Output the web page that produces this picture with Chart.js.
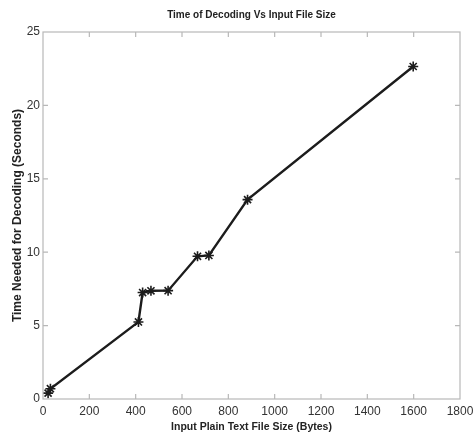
<!DOCTYPE html>
<html>
<head>
<meta charset="utf-8">
<script src="https://cdn.jsdelivr.net/npm/chart.js@4.4.1/dist/chart.umd.min.js"></script>
<style>
  html, body { margin: 0; padding: 0; background: #fff; }
  #wrap { width: 473px; height: 437px; }
</style>
</head>
<body>
<div id="wrap"><canvas id="decode-chart"></canvas></div>
<script>
// file sizes (bytes) and decoding times (seconds)
const fileSizes = [22, 32, 412, 430, 466, 540, 667, 716, 883, 1598];
const decodeTimes = [0.4, 0.7, 5.25, 7.25, 7.37, 7.38, 9.72, 9.78, 13.58, 22.65];
const xTicks = [0, 200, 400, 600, 800, 1000, 1200, 1400, 1600, 1800];
const yTicks = [0, 5, 10, 15, 20, 25];

const sans = '"Liberation Sans", Arial, sans-serif';

// box round the plot plus small inward tick marks on all four sides
const boxTicks = {
    id: 'boxTicks',
    afterDraw(chart) {
        const ctx = chart.ctx;
        const area = chart.chartArea;
        const x = chart.scales.x;
        const y = chart.scales.y;
        ctx.save();
        ctx.strokeStyle = '#b8b8b8';
        ctx.lineWidth = 1.2;
        ctx.strokeRect(area.left, area.top, area.right - area.left, area.bottom - area.top);
        ctx.beginPath();
        x.ticks.forEach(t => {
            const px = x.getPixelForValue(t.value);
            if (px <= area.left + 1 || px >= area.right - 1) return;
            ctx.moveTo(px, area.bottom); ctx.lineTo(px, area.bottom - 5);
            ctx.moveTo(px, area.top); ctx.lineTo(px, area.top + 5);
        });
        y.ticks.forEach(t => {
            const py = y.getPixelForValue(t.value);
            if (py <= area.top + 1 || py >= area.bottom - 1) return;
            ctx.moveTo(area.left, py); ctx.lineTo(area.left + 5, py);
            ctx.moveTo(area.right, py); ctx.lineTo(area.right - 5, py);
        });
        ctx.stroke();
        ctx.restore();
    }
};

const ctx = document.getElementById('decode-chart').getContext('2d');
new Chart(ctx, {
    type: 'line',
    data: {
        datasets: [{
            data: fileSizes.map((s, i) => ({ x: s, y: decodeTimes[i] })),
            borderColor: '#1c1c1c',
            borderWidth: 2.4,
            pointStyle: 'star',
            pointRadius: 5,
            pointBorderWidth: 1.6,
            pointBorderColor: '#1c1c1c',
            pointBackgroundColor: '#1c1c1c',
            tension: 0,
            fill: false
        }]
    },
    options: {
        responsive: true,
        maintainAspectRatio: false,
        animation: false,
        layout: { padding: { left: 0, right: 13, top: 0, bottom: 0 } },
        plugins: {
            legend: { display: false },
            tooltip: { enabled: false },
            title: {
                display: true,
                fullSize: false,
                text: 'Time of Decoding Vs Input File Size',
                color: '#222',
                font: { family: sans, size: 10, weight: 'bold' },
                padding: { top: 9, bottom: 11 }
            }
        },
        scales: {
            x: {
                type: 'linear',
                min: 0,
                max: 1800,
                afterBuildTicks: axis => { axis.ticks = xTicks.map(v => ({ value: v })); },
                afterFit: axis => {
                    axis.height = 38;
                    axis.paddingLeft = 0;
                    axis.paddingRight = 0;
                },
                grid: { display: false, drawTicks: false },
                border: { display: false },
                ticks: {
                    color: '#333',
                    padding: 5,
                    font: { family: sans, size: 12 },
                    callback: v => String(v)
                },
                title: {
                    display: true,
                    text: 'Input Plain Text File Size (Bytes)',
                    color: '#222',
                    font: { family: sans, size: 10.5, weight: 'bold' },
                    padding: { top: 0, bottom: 4 }
                }
            },
            y: {
                type: 'linear',
                min: 0,
                max: 25,
                afterBuildTicks: axis => { axis.ticks = yTicks.map(v => ({ value: v })); },
                afterFit: axis => { axis.width = 43; },
                grid: { display: false, drawTicks: false },
                border: { display: false },
                ticks: {
                    color: '#333',
                    padding: 3,
                    font: { family: sans, size: 12 },
                    callback: v => String(v)
                },
                title: {
                    display: true,
                    text: 'Time Needed for Decoding (Seconds)',
                    color: '#222',
                    font: { family: sans, size: 12, weight: 'bold' },
                    padding: { top: 10.8, bottom: 0 }
                }
            }
        }
    },
    plugins: [boxTicks]
});
</script>
</body>
</html>
